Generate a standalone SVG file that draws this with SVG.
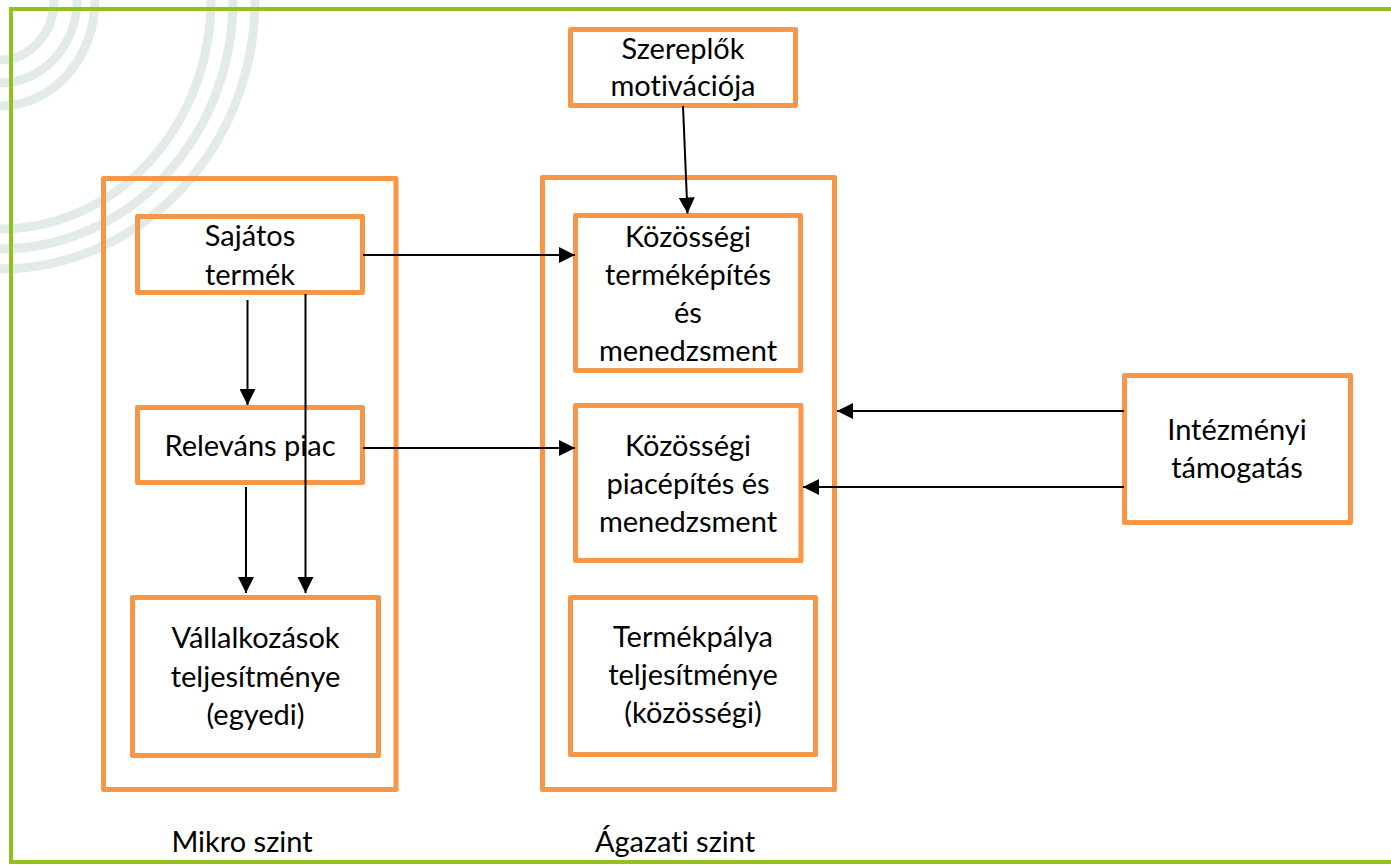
<svg xmlns="http://www.w3.org/2000/svg" width="1391" height="865" viewBox="0 0 1391 865">
<defs>
<style>
.deco{fill:none;stroke:#e2ebe7;stroke-width:9}
.frame{fill:none;stroke:#93c01f;stroke-width:4}
.box{fill:none;stroke:#f79646;stroke-width:5;stroke-linejoin:round}
.lbl{font-family:Lato,"Liberation Sans",sans-serif;font-size:29px;fill:#000;text-anchor:middle;font-variant-ligatures:none}
.conn{fill:none;stroke:#000;stroke-width:2}
</style>
<marker id="ah" markerUnits="userSpaceOnUse" markerWidth="16" markerHeight="16" refX="15" refY="7.5" orient="auto" viewBox="0 0 15 15">
<path d="M0,0 L15,7.5 L0,15 z" fill="#000"/>
</marker>
</defs>
<rect width="1391" height="865" fill="#fff"/>
<g id="decoration">
<path class="deco" d="M54,0 A54,60 0 0 1 0,60"/>
<path class="deco" d="M77,0 A77,83 0 0 1 0,83"/>
<path class="deco" d="M95,0 A95,106 0 0 1 0,106"/>
<path class="deco" d="M211,0 A211,229 0 0 1 0,229"/>
<path class="deco" d="M233,0 A233,249 0 0 1 0,249"/>
<path class="deco" d="M255,0 A255,269 0 0 1 0,269"/>
</g>
<g id="frame">
<path class="frame" d="M1391,9 L11,9 L11,864"/>
<path class="frame" d="M11,862 L1391,862"/>
</g>
<g id="mikro">
<rect class="box" x="103.5" y="178.5" width="292.5" height="611"/>
<text class="lbl" x="242" y="852">Mikro szint</text>
</g>
<g id="sajatos">
<rect class="box" x="137.5" y="216.5" width="225" height="76"/>
<text class="lbl" x="250" y="246">Sajátos</text>
<text class="lbl" x="250" y="285">termék</text>
</g>
<g id="relevans">
<rect class="box" x="137.5" y="407.5" width="225" height="75"/>
<text class="lbl" x="250" y="456">Releváns piac</text>
</g>
<g id="vallalkozasok">
<rect class="box" x="132.5" y="597.5" width="246" height="158"/>
<text class="lbl" x="255.5" y="648">Vállalkozások</text>
<text class="lbl" x="255.5" y="686.5">teljesítménye</text>
<text class="lbl" x="255.5" y="725">(egyedi)</text>
</g>
<g id="agazati">
<rect class="box" x="542.5" y="177.5" width="292" height="612"/>
<text class="lbl" x="675" y="852">Ágazati szint</text>
</g>
<g id="szereplok">
<rect class="box" x="570.5" y="29.5" width="225" height="76"/>
<text class="lbl" x="683" y="59">Szereplők</text>
<text class="lbl" x="683" y="96">motivációja</text>
</g>
<g id="kozossegi-termek">
<rect class="box" x="575.5" y="215.5" width="225" height="155"/>
<text class="lbl" x="688" y="247">Közösségi</text>
<text class="lbl" x="688" y="285">terméképítés</text>
<text class="lbl" x="688" y="323">és</text>
<text class="lbl" x="688" y="361">menedzsment</text>
</g>
<g id="kozossegi-piac">
<rect class="box" x="575.5" y="405.5" width="225.5" height="155"/>
<text class="lbl" x="688" y="456">Közösségi</text>
<text class="lbl" x="688" y="494">piacépítés és</text>
<text class="lbl" x="688" y="532">menedzsment</text>
</g>
<g id="termekpalya">
<rect class="box" x="570.5" y="597.5" width="245" height="157"/>
<text class="lbl" x="693" y="647">Termékpálya</text>
<text class="lbl" x="693" y="685">teljesítménye</text>
<text class="lbl" x="693" y="723">(közösségi)</text>
</g>
<g id="intezmenyi">
<rect class="box" x="1124.5" y="375.5" width="226" height="147"/>
<text class="lbl" x="1237" y="440">Intézményi</text>
<text class="lbl" x="1237" y="478">támogatás</text>
</g>
<g id="connectors">
<path class="conn" marker-end="url(#ah)" d="M683,106 L687.5,213.5"/>
<path class="conn" marker-end="url(#ah)" d="M363,255 L575,255"/>
<path class="conn" marker-end="url(#ah)" d="M363,448 L575,448"/>
<path class="conn" marker-end="url(#ah)" d="M247.5,300 L247.5,405"/>
<path class="conn" marker-end="url(#ah)" d="M305.5,294 L305.5,593"/>
<path class="conn" marker-end="url(#ah)" d="M246,487 L246,593"/>
<path class="conn" marker-end="url(#ah)" d="M1124,411 L837,411"/>
<path class="conn" marker-end="url(#ah)" d="M1124,487 L803,487"/>
</g>
</svg>
